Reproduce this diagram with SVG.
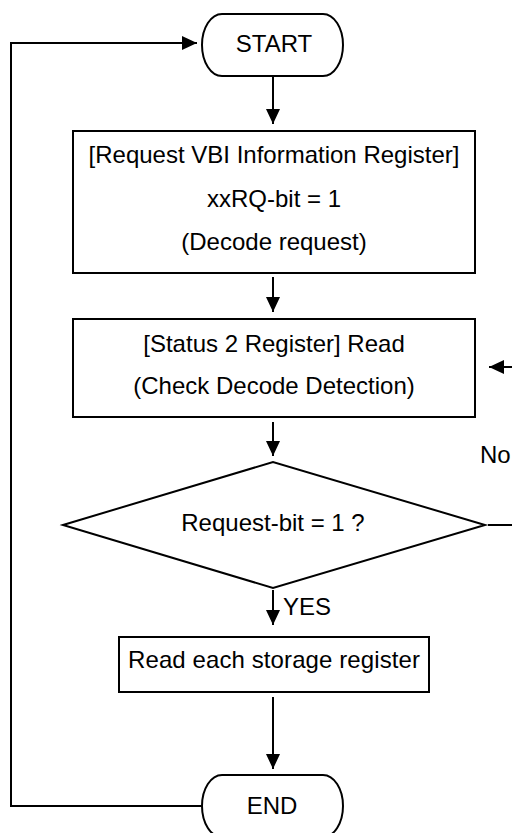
<svg xmlns="http://www.w3.org/2000/svg" width="512" height="833" viewBox="0 0 512 833">
  <style>
    .shape { fill: #ffffff; stroke: #000000; stroke-width: 2; }
    .conn { fill: none; stroke: #000000; stroke-width: 2; }
    text { font-family: "Liberation Sans", Arial, sans-serif; font-size: 24px; fill: #000000; }
    .c { text-anchor: middle; }
  </style>
  <defs>
    <marker id="arrow" markerUnits="userSpaceOnUse" markerWidth="15" markerHeight="14" refX="15" refY="7" orient="auto">
      <polygon points="0,0 15,7 0,14" fill="#000000"/>
    </marker>
  </defs>
  <rect width="512" height="833" fill="#ffffff"/>

  <g id="connectors">
    <line class="conn" x1="273" y1="76" x2="273" y2="124" marker-end="url(#arrow)"/>
    <line class="conn" x1="273" y1="277" x2="273" y2="312" marker-end="url(#arrow)"/>
    <line class="conn" x1="273" y1="422" x2="273" y2="456" marker-end="url(#arrow)"/>
    <line class="conn" x1="273" y1="590" x2="273" y2="625" marker-end="url(#arrow)"/>
    <line class="conn" x1="273" y1="697" x2="273" y2="769" marker-end="url(#arrow)"/>
    <path class="conn" d="M 202 806 H 11 V 43 H 197" marker-end="url(#arrow)"/>
    <line class="conn" x1="488" y1="525" x2="512" y2="525" stroke-width="1.5"/>
    <line class="conn" x1="512" y1="367" x2="489" y2="367" marker-end="url(#arrow)"/>
    <text x="480" y="463">No</text>
    <text x="283" y="615">YES</text>
  </g>

  <g id="start">
    <path class="shape" d="M 222 14 H 323 A 20 31 0 0 1 323 76 H 222 A 20 31 0 0 1 222 14 Z"/>
    <text class="c" x="274" y="52">START</text>
  </g>

  <g id="request">
    <rect class="shape" x="73" y="131" width="402" height="142"/>
    <text class="c" x="274" y="163">[Request VBI Information Register]</text>
    <text class="c" x="274" y="207">xxRQ-bit = 1</text>
    <text class="c" x="274" y="250">(Decode request)</text>
  </g>

  <g id="status">
    <rect class="shape" x="73" y="319" width="402" height="98"/>
    <text class="c" x="274" y="351.5">[Status 2 Register] Read</text>
    <text class="c" x="274" y="394">(Check Decode Detection)</text>
  </g>

  <g id="decision">
    <polygon class="shape" stroke-width="1.5" points="63,525 273,462 485,525 273,588"/>
    <text class="c" x="273" y="531">Request-bit = 1 ?</text>
  </g>

  <g id="read">
    <rect class="shape" x="119" y="637" width="310" height="55"/>
    <text class="c" x="274" y="668" textLength="292" lengthAdjust="spacing">Read each storage register</text>
  </g>

  <g id="end">
    <path class="shape" d="M 222 775 H 323 A 20 31 0 0 1 323 837 H 222 A 20 31 0 0 1 222 775 Z"/>
    <text class="c" x="272" y="814">END</text>
  </g>
</svg>
